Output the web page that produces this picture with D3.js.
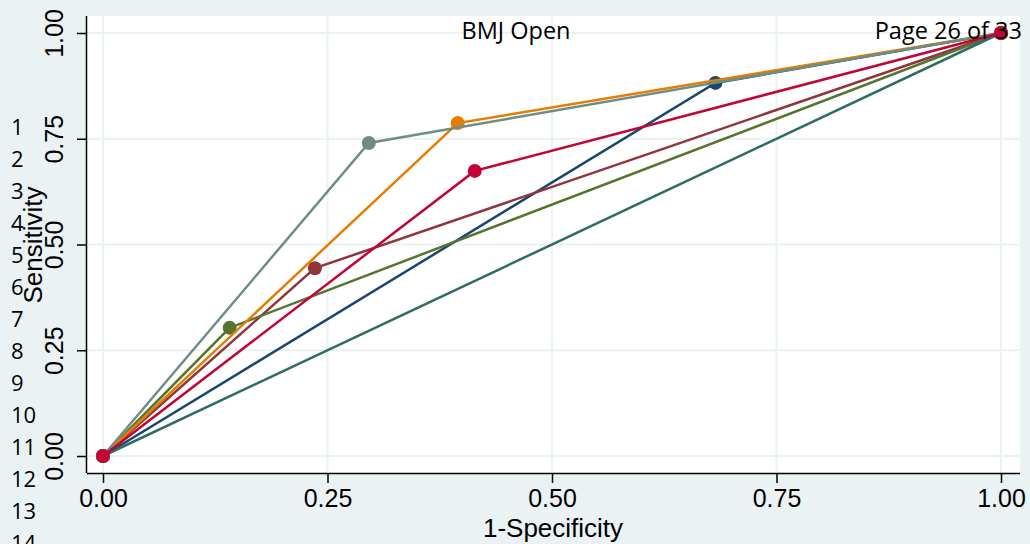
<!DOCTYPE html>
<html lang="en">
<head>
<meta charset="UTF-8"/>
<title>ROC</title>
<script src="https://d3js.org/d3.v7.min.js"></script>
<style>
  body { margin: 0; background: #eaf2f3; }
  text { font-family: "Liberation Sans", Arial, sans-serif; }
  .hdr { font-family: "Open Sans", "Noto Sans", sans-serif; }
</style>
</head>
<body>
<div id="chart"></div>
<script>

// ROC points (1-specificity, sensitivity) for each test
var fpr1 = [0, 0.682, 1], tpr1 = [0, 0.882, 1]   // navy
var fpr2 = [0, 0.236, 1], tpr2 = [0, 0.444, 1]   // maroon
var fpr3 = [0, 0.141, 1], tpr3 = [0, 0.303, 1]   // forest green
var fpr4 = [0, 0.395, 1], tpr4 = [0, 0.787, 1]   // dark orange
var fpr5 = [0, 0.296, 1], tpr5 = [0, 0.740, 1]   // teal
var fprRef = [0, 1],      tprRef = [0, 1]        // reference line
var fpr6 = [0, 0.414, 1], tpr6 = [0, 0.674, 1]   // cranberry

var seriesColors = ["#1a476f", "#90353b", "#55752f", "#e37e00", "#6e8e84", "#2d6d66", "#c10534"]
var tickVals = [0, 0.25, 0.5, 0.75, 1]
var lineNums = ["1","2","3","4","5","6","7","8","9","10","11","12","13","14"]

var series = [
  {x: fpr1, y: tpr1, markers: true},
  {x: fpr2, y: tpr2, markers: true},
  {x: fpr3, y: tpr3, markers: true},
  {x: fpr4, y: tpr4, markers: true},
  {x: fpr5, y: tpr5, markers: true},
  {x: fprRef, y: tprRef, markers: false},
  {x: fpr6, y: tpr6, markers: true}
]

var width = 1030, height = 544

var svg = d3.select("#chart").append("svg")
    .attr("width", width)
    .attr("height", height)

svg.append("rect").attr("width", width).attr("height", height).attr("fill", "#eaf2f3")

// plot region
var px0 = 87, px1 = 1020, py0 = 16, py1 = 473
svg.append("rect")
    .attr("x", px0).attr("y", py0)
    .attr("width", px1 - px0).attr("height", py1 - py0)
    .attr("fill", "white")

var x = d3.scaleLinear().domain([0, 1]).range([103, 1001])
var y = d3.scaleLinear().domain([0, 1]).range([456, 33])

// grid
svg.selectAll(".gx").data(tickVals).enter().append("line")
    .attr("x1", function(d){ return x(d) }).attr("x2", function(d){ return x(d) })
    .attr("y1", py0).attr("y2", py1)
    .attr("stroke", "#eaf2f3").attr("stroke-width", 2)
svg.selectAll(".gy").data(tickVals).enter().append("line")
    .attr("y1", function(d){ return y(d) }).attr("y2", function(d){ return y(d) })
    .attr("x1", px0).attr("x2", px1)
    .attr("stroke", "#eaf2f3").attr("stroke-width", 2)

// axes
var xAxis = svg.append("g")
    .attr("transform", "translate(0," + py1 + ")")
    .call(d3.axisBottom(x).tickValues(tickVals).tickFormat(d3.format(".2f")).tickSize(10))
xAxis.select(".domain").attr("d", "M" + px0 + ",0.5H" + px1).attr("stroke", "#000").attr("stroke-width", 1.5)
xAxis.selectAll("line").attr("stroke-width", 1.5)
xAxis.selectAll("text")
    .attr("font-size", 25).attr("fill", "#000")
    .attr("y", 34).attr("dy", null)

var yAxis = svg.append("g")
    .attr("transform", "translate(" + px0 + ",0)")
    .call(d3.axisLeft(y).tickValues(tickVals).tickFormat(d3.format(".2f")).tickSize(10))
yAxis.select(".domain").attr("d", "M-0.5," + py0 + "V" + py1).attr("stroke", "#000").attr("stroke-width", 1.5)
yAxis.selectAll("line").attr("stroke-width", 1.5)
yAxis.selectAll("text")
    .attr("font-size", 25).attr("fill", "#000")
    .attr("x", null).attr("dy", null)
    .attr("text-anchor", "middle")
    .attr("transform", "translate(-24,0) rotate(-90)")

// axis titles
svg.append("text")
    .attr("x", 553).attr("y", 537)
    .attr("text-anchor", "middle")
    .attr("font-size", 26)
    .text("1-Specificity")
svg.append("text")
    .attr("transform", "translate(42,245) rotate(-90)")
    .attr("text-anchor", "middle")
    .attr("font-size", 26)
    .text("Sensitivity")

// lines
var line = d3.line()
    .x(function(d){ return x(d[0]) })
    .y(function(d){ return y(d[1]) })

series.forEach(function(s, i) {
  var pts = s.x.map(function(v, j){ return [v, s.y[j]] })
  svg.append("path")
      .datum(pts)
      .attr("d", line)
      .attr("fill", "none")
      .attr("stroke", seriesColors[i])
      .attr("stroke-width", 2.5)
  if (s.markers) {
    svg.selectAll(".m" + i).data(pts).enter().append("circle")
        .attr("cx", function(d){ return x(d[0]) })
        .attr("cy", function(d){ return y(d[1]) })
        .attr("r", 7)
        .attr("fill", seriesColors[i])
  }
})

// page header text
svg.append("text").attr("class", "hdr")
    .attr("x", 516).attr("y", 39)
    .attr("text-anchor", "middle")
    .attr("font-size", 23.5)
    .text("BMJ Open")
svg.append("text").attr("class", "hdr")
    .attr("x", 1022).attr("y", 39)
    .attr("text-anchor", "end")
    .attr("font-size", 23.5)
    .text("Page 26 of 33")

// line numbers
svg.selectAll(".ln").data(lineNums).enter().append("text")
    .attr("class", "hdr")
    .attr("x", 11)
    .attr("y", function(d, i){ return 135 + i * 32 })
    .attr("font-size", 22)
    .text(function(d){ return d })

</script>
</body>
</html>
